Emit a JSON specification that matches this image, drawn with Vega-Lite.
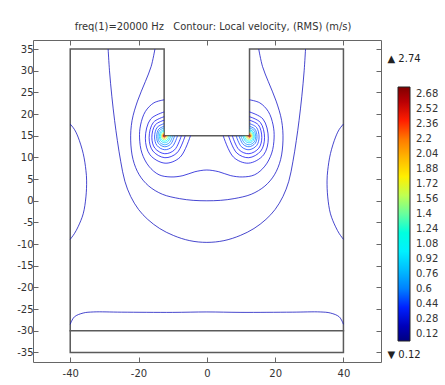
{
  "$schema": "https://vega.github.io/schema/vega-lite/v6.json",
  "autosize": {"type": "none"},
  "width": 348,
  "height": 322,
  "padding": {"left": 33, "top": 40, "right": 64, "bottom": 23},
  "background": "white",
  "title": {"text": "freq(1)=20000 Hz\u00a0\u00a0 Contour: Local velocity, (RMS) (m/s)", "font": "'DejaVu Sans Condensed', 'Liberation Sans Narrow', Roboto, sans-serif", "fontSize": 11, "fontWeight": "normal", "color": "#333", "anchor": "middle", "offset": 8, "dx": 6},
  "config": {
    "view": {"stroke": null},
    "axis": {"domainColor": "#666", "tickColor": "#666", "labelColor": "#333", "labelFont": "DejaVu Sans", "labelFontSize": 10, "grid": false, "tickSize": -5, "labelPadding": 5, "labelExpr": "replace(datum.label, '−', '-')"}
  },
  "datasets": {
    "frame": [
      {"id": "F", "o": 1, "x": -40, "y": 35}, {"id": "F", "o": 2, "x": -12.5, "y": 35}, {"id": "F", "o": 3, "x": -12.5, "y": 15}, {"id": "F", "o": 4, "x": 12.5, "y": 15}, {"id": "F", "o": 5, "x": 12.5, "y": 35}, {"id": "F", "o": 6, "x": 40, "y": 35}, {"id": "F", "o": 7, "x": 40, "y": -35}, {"id": "F", "o": 8, "x": -40, "y": -35}, {"id": "F", "o": 9, "x": -40, "y": 35},
      {"id": "P", "o": 1, "x": -40, "y": -30}, {"id": "P", "o": 2, "x": 40, "y": -30}
    ],
    "contours": [
      {"id": "AL", "o": 1, "x": -40, "y": 17.7, "l": 0.2}, {"id": "AL", "o": 2, "x": -38.8, "y": 16.5, "l": 0.2}, {"id": "AL", "o": 3, "x": -37.7, "y": 14.7, "l": 0.2}, {"id": "AL", "o": 4, "x": -36.2, "y": 10.9, "l": 0.2}, {"id": "AL", "o": 5, "x": -35.4, "y": 7.0, "l": 0.2}, {"id": "AL", "o": 6, "x": -35.2, "y": 4.6, "l": 0.2}, {"id": "AL", "o": 7, "x": -35.4, "y": 0.9, "l": 0.2}, {"id": "AL", "o": 8, "x": -36.2, "y": -3.0, "l": 0.2}, {"id": "AL", "o": 9, "x": -37.7, "y": -6.0, "l": 0.2}, {"id": "AL", "o": 10, "x": -38.8, "y": -7.6, "l": 0.2}, {"id": "AL", "o": 11, "x": -40, "y": -8.9, "l": 0.2},
      {"id": "AR", "o": 1, "x": 40, "y": 17.7, "l": 0.2}, {"id": "AR", "o": 2, "x": 38.8, "y": 16.5, "l": 0.2}, {"id": "AR", "o": 3, "x": 37.7, "y": 14.7, "l": 0.2}, {"id": "AR", "o": 4, "x": 36.2, "y": 10.9, "l": 0.2}, {"id": "AR", "o": 5, "x": 35.4, "y": 7.0, "l": 0.2}, {"id": "AR", "o": 6, "x": 35.2, "y": 4.6, "l": 0.2}, {"id": "AR", "o": 7, "x": 35.4, "y": 0.9, "l": 0.2}, {"id": "AR", "o": 8, "x": 36.2, "y": -3.0, "l": 0.2}, {"id": "AR", "o": 9, "x": 37.7, "y": -6.0, "l": 0.2}, {"id": "AR", "o": 10, "x": 38.8, "y": -7.6, "l": 0.2}, {"id": "AR", "o": 11, "x": 40, "y": -8.9, "l": 0.2},
      {"id": "U", "o": 1, "x": -28.9, "y": 35, "l": 0.2}, {"id": "U", "o": 2, "x": -28.5, "y": 30, "l": 0.2}, {"id": "U", "o": 3, "x": -27.8, "y": 24, "l": 0.2}, {"id": "U", "o": 4, "x": -27, "y": 18.5, "l": 0.2}, {"id": "U", "o": 5, "x": -26.2, "y": 13.9, "l": 0.2}, {"id": "U", "o": 6, "x": -25.2, "y": 9, "l": 0.2}, {"id": "U", "o": 7, "x": -24, "y": 4.5, "l": 0.2}, {"id": "U", "o": 8, "x": -22.3, "y": 1, "l": 0.2}, {"id": "U", "o": 9, "x": -20, "y": -2, "l": 0.2}, {"id": "U", "o": 10, "x": -17.3, "y": -4.3, "l": 0.2}, {"id": "U", "o": 11, "x": -13.8, "y": -6.4, "l": 0.2}, {"id": "U", "o": 12, "x": -9.8, "y": -8, "l": 0.2}, {"id": "U", "o": 13, "x": -5, "y": -9.2, "l": 0.2}, {"id": "U", "o": 14, "x": 0, "y": -9.6, "l": 0.2}, {"id": "U", "o": 15, "x": 5, "y": -9.2, "l": 0.2}, {"id": "U", "o": 16, "x": 9.8, "y": -8, "l": 0.2}, {"id": "U", "o": 17, "x": 13.8, "y": -6.4, "l": 0.2}, {"id": "U", "o": 18, "x": 17.3, "y": -4.3, "l": 0.2}, {"id": "U", "o": 19, "x": 20, "y": -2, "l": 0.2}, {"id": "U", "o": 20, "x": 22.3, "y": 1, "l": 0.2}, {"id": "U", "o": 21, "x": 24, "y": 4.5, "l": 0.2}, {"id": "U", "o": 22, "x": 25.2, "y": 9, "l": 0.2}, {"id": "U", "o": 23, "x": 26.2, "y": 13.9, "l": 0.2}, {"id": "U", "o": 24, "x": 27, "y": 18.5, "l": 0.2}, {"id": "U", "o": 25, "x": 27.8, "y": 24, "l": 0.2}, {"id": "U", "o": 26, "x": 28.5, "y": 30, "l": 0.2}, {"id": "U", "o": 27, "x": 28.9, "y": 35, "l": 0.2},
      {"id": "B", "o": 1, "x": -15.2, "y": 35, "l": 0.22}, {"id": "B", "o": 2, "x": -16.3, "y": 31, "l": 0.22}, {"id": "B", "o": 3, "x": -18, "y": 27.5, "l": 0.22}, {"id": "B", "o": 4, "x": -20.3, "y": 23, "l": 0.22}, {"id": "B", "o": 5, "x": -21.9, "y": 18.5, "l": 0.22}, {"id": "B", "o": 6, "x": -22.3, "y": 14, "l": 0.22}, {"id": "B", "o": 7, "x": -21.6, "y": 9.5, "l": 0.22}, {"id": "B", "o": 8, "x": -19.8, "y": 6, "l": 0.22}, {"id": "B", "o": 9, "x": -17, "y": 3.4, "l": 0.22}, {"id": "B", "o": 10, "x": -13, "y": 1.5, "l": 0.22}, {"id": "B", "o": 11, "x": -8, "y": 0.5, "l": 0.22}, {"id": "B", "o": 12, "x": -4, "y": 0.1, "l": 0.22}, {"id": "B", "o": 13, "x": 0, "y": 0, "l": 0.22}, {"id": "B", "o": 14, "x": 4, "y": 0.1, "l": 0.22}, {"id": "B", "o": 15, "x": 8, "y": 0.5, "l": 0.22}, {"id": "B", "o": 16, "x": 13, "y": 1.5, "l": 0.22}, {"id": "B", "o": 17, "x": 17, "y": 3.4, "l": 0.22}, {"id": "B", "o": 18, "x": 19.8, "y": 6, "l": 0.22}, {"id": "B", "o": 19, "x": 21.6, "y": 9.5, "l": 0.22}, {"id": "B", "o": 20, "x": 22.3, "y": 14, "l": 0.22}, {"id": "B", "o": 21, "x": 21.9, "y": 18.5, "l": 0.22}, {"id": "B", "o": 22, "x": 20.3, "y": 23, "l": 0.22}, {"id": "B", "o": 23, "x": 18, "y": 27.5, "l": 0.22}, {"id": "B", "o": 24, "x": 16.3, "y": 31, "l": 0.22}, {"id": "B", "o": 25, "x": 15.2, "y": 35, "l": 0.22},
      {"id": "C", "o": 1, "x": -12.5, "y": 23.3, "l": 0.26}, {"id": "C", "o": 2, "x": -15.5, "y": 22.6, "l": 0.26}, {"id": "C", "o": 3, "x": -18, "y": 20.6, "l": 0.26}, {"id": "C", "o": 4, "x": -19.4, "y": 17.5, "l": 0.26}, {"id": "C", "o": 5, "x": -19.7, "y": 14.5, "l": 0.26}, {"id": "C", "o": 6, "x": -19, "y": 11, "l": 0.26}, {"id": "C", "o": 7, "x": -17, "y": 8, "l": 0.26}, {"id": "C", "o": 8, "x": -14, "y": 6, "l": 0.26}, {"id": "C", "o": 9, "x": -10.5, "y": 5.5, "l": 0.26}, {"id": "C", "o": 10, "x": -7, "y": 5.8, "l": 0.26}, {"id": "C", "o": 11, "x": -3.5, "y": 6.7, "l": 0.26}, {"id": "C", "o": 12, "x": 0, "y": 7.1, "l": 0.26}, {"id": "C", "o": 13, "x": 3.5, "y": 6.7, "l": 0.26}, {"id": "C", "o": 14, "x": 7, "y": 5.8, "l": 0.26}, {"id": "C", "o": 15, "x": 10.5, "y": 5.5, "l": 0.26}, {"id": "C", "o": 16, "x": 14, "y": 6, "l": 0.26}, {"id": "C", "o": 17, "x": 17, "y": 8, "l": 0.26}, {"id": "C", "o": 18, "x": 19, "y": 11, "l": 0.26}, {"id": "C", "o": 19, "x": 19.7, "y": 14.5, "l": 0.26}, {"id": "C", "o": 20, "x": 19.4, "y": 17.5, "l": 0.26}, {"id": "C", "o": 21, "x": 18, "y": 20.6, "l": 0.26}, {"id": "C", "o": 22, "x": 15.5, "y": 22.6, "l": 0.26}, {"id": "C", "o": 23, "x": 12.5, "y": 23.3, "l": 0.26},
      {"id": "D", "o": 1, "x": -40, "y": -28.5, "l": 0.2}, {"id": "D", "o": 2, "x": -38.8, "y": -26.8, "l": 0.2}, {"id": "D", "o": 3, "x": -36.2, "y": -25.9, "l": 0.2}, {"id": "D", "o": 4, "x": -33.2, "y": -25.65, "l": 0.2}, {"id": "D", "o": 5, "x": -25, "y": -25.7, "l": 0.2}, {"id": "D", "o": 6, "x": -10, "y": -25.75, "l": 0.2}, {"id": "D", "o": 7, "x": 0, "y": -25.65, "l": 0.2}, {"id": "D", "o": 8, "x": 10, "y": -25.75, "l": 0.2}, {"id": "D", "o": 9, "x": 25, "y": -25.7, "l": 0.2}, {"id": "D", "o": 10, "x": 33.2, "y": -25.65, "l": 0.2}, {"id": "D", "o": 11, "x": 36.2, "y": -25.9, "l": 0.2}, {"id": "D", "o": 12, "x": 38.8, "y": -26.8, "l": 0.2}, {"id": "D", "o": 13, "x": 40, "y": -28.5, "l": 0.2},
      {"id": "L01", "o": 0, "x": -12.5, "y": 20.5, "l": 0.3}, {"id": "L01", "o": 1, "x": -16.46, "y": 18.85, "l": 0.3}, {"id": "L01", "o": 2, "x": -18, "y": 14.45, "l": 0.3}, {"id": "L01", "o": 3, "x": -16.63, "y": 10.6, "l": 0.3}, {"id": "L01", "o": 4, "x": -12.23, "y": 8.68, "l": 0.3}, {"id": "L01", "o": 5, "x": -7.83, "y": 10.05, "l": 0.3}, {"id": "L01", "o": 6, "x": -4.8, "y": 15, "l": 0.3},
      {"id": "L02", "o": 0, "x": -12.5, "y": 19.4, "l": 0.33}, {"id": "L02", "o": 1, "x": -15.67, "y": 18.08, "l": 0.33}, {"id": "L02", "o": 2, "x": -16.9, "y": 14.56, "l": 0.33}, {"id": "L02", "o": 3, "x": -15.8, "y": 11.48, "l": 0.33}, {"id": "L02", "o": 4, "x": -12.28, "y": 9.94, "l": 0.33}, {"id": "L02", "o": 5, "x": -8.76, "y": 11.04, "l": 0.33}, {"id": "L02", "o": 6, "x": -6.34, "y": 15, "l": 0.33},
      {"id": "L03", "o": 0, "x": -12.5, "y": 18.6, "l": 0.37}, {"id": "L03", "o": 1, "x": -15.09, "y": 17.52, "l": 0.37}, {"id": "L03", "o": 2, "x": -16.1, "y": 14.64, "l": 0.37}, {"id": "L03", "o": 3, "x": -15.2, "y": 12.12, "l": 0.37}, {"id": "L03", "o": 4, "x": -12.32, "y": 10.86, "l": 0.37}, {"id": "L03", "o": 5, "x": -9.44, "y": 11.76, "l": 0.37}, {"id": "L03", "o": 6, "x": -7.46, "y": 15, "l": 0.37},
      {"id": "L04", "o": 0, "x": -12.5, "y": 17.8, "l": 0.42}, {"id": "L04", "o": 1, "x": -14.52, "y": 16.96, "l": 0.42}, {"id": "L04", "o": 2, "x": -15.3, "y": 14.72, "l": 0.42}, {"id": "L04", "o": 3, "x": -14.6, "y": 12.76, "l": 0.42}, {"id": "L04", "o": 4, "x": -12.36, "y": 11.78, "l": 0.42}, {"id": "L04", "o": 5, "x": -10.12, "y": 12.48, "l": 0.42}, {"id": "L04", "o": 6, "x": -8.58, "y": 15, "l": 0.42},
      {"id": "L05", "o": 0, "x": -12.5, "y": 17.2, "l": 0.5}, {"id": "L05", "o": 1, "x": -14.08, "y": 16.54, "l": 0.5}, {"id": "L05", "o": 2, "x": -14.7, "y": 14.78, "l": 0.5}, {"id": "L05", "o": 3, "x": -14.15, "y": 13.24, "l": 0.5}, {"id": "L05", "o": 4, "x": -12.39, "y": 12.47, "l": 0.5}, {"id": "L05", "o": 5, "x": -10.63, "y": 13.02, "l": 0.5}, {"id": "L05", "o": 6, "x": -9.42, "y": 15, "l": 0.5},
      {"id": "L06", "o": 0, "x": -12.5, "y": 16.8, "l": 0.65}, {"id": "L06", "o": 1, "x": -13.8, "y": 16.26, "l": 0.65}, {"id": "L06", "o": 2, "x": -14.3, "y": 14.82, "l": 0.65}, {"id": "L06", "o": 3, "x": -13.85, "y": 13.56, "l": 0.65}, {"id": "L06", "o": 4, "x": -12.41, "y": 12.93, "l": 0.65}, {"id": "L06", "o": 5, "x": -10.97, "y": 13.38, "l": 0.65}, {"id": "L06", "o": 6, "x": -9.98, "y": 15, "l": 0.65},
      {"id": "L07", "o": 0, "x": -12.5, "y": 16.4, "l": 0.85}, {"id": "L07", "o": 1, "x": -13.51, "y": 15.98, "l": 0.85}, {"id": "L07", "o": 2, "x": -13.9, "y": 14.86, "l": 0.85}, {"id": "L07", "o": 3, "x": -13.55, "y": 13.88, "l": 0.85}, {"id": "L07", "o": 4, "x": -12.43, "y": 13.39, "l": 0.85}, {"id": "L07", "o": 5, "x": -11.31, "y": 13.74, "l": 0.85}, {"id": "L07", "o": 6, "x": -10.54, "y": 15, "l": 0.85},
      {"id": "L08", "o": 0, "x": -12.5, "y": 16.1, "l": 1.1}, {"id": "L08", "o": 1, "x": -13.29, "y": 15.77, "l": 1.1}, {"id": "L08", "o": 2, "x": -13.6, "y": 14.89, "l": 1.1}, {"id": "L08", "o": 3, "x": -13.33, "y": 14.12, "l": 1.1}, {"id": "L08", "o": 4, "x": -12.45, "y": 13.74, "l": 1.1}, {"id": "L08", "o": 5, "x": -11.57, "y": 14.01, "l": 1.1}, {"id": "L08", "o": 6, "x": -10.96, "y": 15, "l": 1.1},
      {"id": "L09", "o": 0, "x": -12.5, "y": 15.8, "l": 1.5}, {"id": "L09", "o": 1, "x": -13.08, "y": 15.56, "l": 1.5}, {"id": "L09", "o": 2, "x": -13.3, "y": 14.92, "l": 1.5}, {"id": "L09", "o": 3, "x": -13.1, "y": 14.36, "l": 1.5}, {"id": "L09", "o": 4, "x": -12.46, "y": 14.08, "l": 1.5}, {"id": "L09", "o": 5, "x": -11.82, "y": 14.28, "l": 1.5}, {"id": "L09", "o": 6, "x": -11.38, "y": 15, "l": 1.5},
      {"id": "L10", "o": 0, "x": -12.5, "y": 15.55, "l": 1.9}, {"id": "L10", "o": 1, "x": -12.9, "y": 15.39, "l": 1.9}, {"id": "L10", "o": 2, "x": -13.05, "y": 14.95, "l": 1.9}, {"id": "L10", "o": 3, "x": -12.91, "y": 14.56, "l": 1.9}, {"id": "L10", "o": 4, "x": -12.47, "y": 14.37, "l": 1.9}, {"id": "L10", "o": 5, "x": -12.03, "y": 14.5, "l": 1.9}, {"id": "L10", "o": 6, "x": -11.73, "y": 15, "l": 1.9},
      {"id": "L11", "o": 0, "x": -12.5, "y": 15.35, "l": 2.3}, {"id": "L11", "o": 1, "x": -12.75, "y": 15.25, "l": 2.3}, {"id": "L11", "o": 2, "x": -12.85, "y": 14.97, "l": 2.3}, {"id": "L11", "o": 3, "x": -12.76, "y": 14.72, "l": 2.3}, {"id": "L11", "o": 4, "x": -12.48, "y": 14.6, "l": 2.3}, {"id": "L11", "o": 5, "x": -12.2, "y": 14.69, "l": 2.3}, {"id": "L11", "o": 6, "x": -12.01, "y": 15, "l": 2.3},
      {"id": "L12", "o": 0, "x": -12.5, "y": 15.2, "l": 2.65}, {"id": "L12", "o": 1, "x": -12.64, "y": 15.14, "l": 2.65}, {"id": "L12", "o": 2, "x": -12.7, "y": 14.98, "l": 2.65}, {"id": "L12", "o": 3, "x": -12.65, "y": 14.84, "l": 2.65}, {"id": "L12", "o": 4, "x": -12.49, "y": 14.77, "l": 2.65}, {"id": "L12", "o": 5, "x": -12.33, "y": 14.82, "l": 2.65}, {"id": "L12", "o": 6, "x": -12.22, "y": 15, "l": 2.65},
      {"id": "R01", "o": 0, "x": 12.5, "y": 20.5, "l": 0.3}, {"id": "R01", "o": 1, "x": 16.46, "y": 18.85, "l": 0.3}, {"id": "R01", "o": 2, "x": 18, "y": 14.45, "l": 0.3}, {"id": "R01", "o": 3, "x": 16.63, "y": 10.6, "l": 0.3}, {"id": "R01", "o": 4, "x": 12.23, "y": 8.68, "l": 0.3}, {"id": "R01", "o": 5, "x": 7.83, "y": 10.05, "l": 0.3}, {"id": "R01", "o": 6, "x": 4.8, "y": 15, "l": 0.3},
      {"id": "R02", "o": 0, "x": 12.5, "y": 19.4, "l": 0.33}, {"id": "R02", "o": 1, "x": 15.67, "y": 18.08, "l": 0.33}, {"id": "R02", "o": 2, "x": 16.9, "y": 14.56, "l": 0.33}, {"id": "R02", "o": 3, "x": 15.8, "y": 11.48, "l": 0.33}, {"id": "R02", "o": 4, "x": 12.28, "y": 9.94, "l": 0.33}, {"id": "R02", "o": 5, "x": 8.76, "y": 11.04, "l": 0.33}, {"id": "R02", "o": 6, "x": 6.34, "y": 15, "l": 0.33},
      {"id": "R03", "o": 0, "x": 12.5, "y": 18.6, "l": 0.37}, {"id": "R03", "o": 1, "x": 15.09, "y": 17.52, "l": 0.37}, {"id": "R03", "o": 2, "x": 16.1, "y": 14.64, "l": 0.37}, {"id": "R03", "o": 3, "x": 15.2, "y": 12.12, "l": 0.37}, {"id": "R03", "o": 4, "x": 12.32, "y": 10.86, "l": 0.37}, {"id": "R03", "o": 5, "x": 9.44, "y": 11.76, "l": 0.37}, {"id": "R03", "o": 6, "x": 7.46, "y": 15, "l": 0.37},
      {"id": "R04", "o": 0, "x": 12.5, "y": 17.8, "l": 0.42}, {"id": "R04", "o": 1, "x": 14.52, "y": 16.96, "l": 0.42}, {"id": "R04", "o": 2, "x": 15.3, "y": 14.72, "l": 0.42}, {"id": "R04", "o": 3, "x": 14.6, "y": 12.76, "l": 0.42}, {"id": "R04", "o": 4, "x": 12.36, "y": 11.78, "l": 0.42}, {"id": "R04", "o": 5, "x": 10.12, "y": 12.48, "l": 0.42}, {"id": "R04", "o": 6, "x": 8.58, "y": 15, "l": 0.42},
      {"id": "R05", "o": 0, "x": 12.5, "y": 17.2, "l": 0.5}, {"id": "R05", "o": 1, "x": 14.08, "y": 16.54, "l": 0.5}, {"id": "R05", "o": 2, "x": 14.7, "y": 14.78, "l": 0.5}, {"id": "R05", "o": 3, "x": 14.15, "y": 13.24, "l": 0.5}, {"id": "R05", "o": 4, "x": 12.39, "y": 12.47, "l": 0.5}, {"id": "R05", "o": 5, "x": 10.63, "y": 13.02, "l": 0.5}, {"id": "R05", "o": 6, "x": 9.42, "y": 15, "l": 0.5},
      {"id": "R06", "o": 0, "x": 12.5, "y": 16.8, "l": 0.65}, {"id": "R06", "o": 1, "x": 13.8, "y": 16.26, "l": 0.65}, {"id": "R06", "o": 2, "x": 14.3, "y": 14.82, "l": 0.65}, {"id": "R06", "o": 3, "x": 13.85, "y": 13.56, "l": 0.65}, {"id": "R06", "o": 4, "x": 12.41, "y": 12.93, "l": 0.65}, {"id": "R06", "o": 5, "x": 10.97, "y": 13.38, "l": 0.65}, {"id": "R06", "o": 6, "x": 9.98, "y": 15, "l": 0.65},
      {"id": "R07", "o": 0, "x": 12.5, "y": 16.4, "l": 0.85}, {"id": "R07", "o": 1, "x": 13.51, "y": 15.98, "l": 0.85}, {"id": "R07", "o": 2, "x": 13.9, "y": 14.86, "l": 0.85}, {"id": "R07", "o": 3, "x": 13.55, "y": 13.88, "l": 0.85}, {"id": "R07", "o": 4, "x": 12.43, "y": 13.39, "l": 0.85}, {"id": "R07", "o": 5, "x": 11.31, "y": 13.74, "l": 0.85}, {"id": "R07", "o": 6, "x": 10.54, "y": 15, "l": 0.85},
      {"id": "R08", "o": 0, "x": 12.5, "y": 16.1, "l": 1.1}, {"id": "R08", "o": 1, "x": 13.29, "y": 15.77, "l": 1.1}, {"id": "R08", "o": 2, "x": 13.6, "y": 14.89, "l": 1.1}, {"id": "R08", "o": 3, "x": 13.33, "y": 14.12, "l": 1.1}, {"id": "R08", "o": 4, "x": 12.45, "y": 13.74, "l": 1.1}, {"id": "R08", "o": 5, "x": 11.57, "y": 14.01, "l": 1.1}, {"id": "R08", "o": 6, "x": 10.96, "y": 15, "l": 1.1},
      {"id": "R09", "o": 0, "x": 12.5, "y": 15.8, "l": 1.5}, {"id": "R09", "o": 1, "x": 13.08, "y": 15.56, "l": 1.5}, {"id": "R09", "o": 2, "x": 13.3, "y": 14.92, "l": 1.5}, {"id": "R09", "o": 3, "x": 13.1, "y": 14.36, "l": 1.5}, {"id": "R09", "o": 4, "x": 12.46, "y": 14.08, "l": 1.5}, {"id": "R09", "o": 5, "x": 11.82, "y": 14.28, "l": 1.5}, {"id": "R09", "o": 6, "x": 11.38, "y": 15, "l": 1.5},
      {"id": "R10", "o": 0, "x": 12.5, "y": 15.55, "l": 1.9}, {"id": "R10", "o": 1, "x": 12.9, "y": 15.39, "l": 1.9}, {"id": "R10", "o": 2, "x": 13.05, "y": 14.95, "l": 1.9}, {"id": "R10", "o": 3, "x": 12.91, "y": 14.56, "l": 1.9}, {"id": "R10", "o": 4, "x": 12.47, "y": 14.37, "l": 1.9}, {"id": "R10", "o": 5, "x": 12.03, "y": 14.5, "l": 1.9}, {"id": "R10", "o": 6, "x": 11.73, "y": 15, "l": 1.9},
      {"id": "R11", "o": 0, "x": 12.5, "y": 15.35, "l": 2.3}, {"id": "R11", "o": 1, "x": 12.75, "y": 15.25, "l": 2.3}, {"id": "R11", "o": 2, "x": 12.85, "y": 14.97, "l": 2.3}, {"id": "R11", "o": 3, "x": 12.76, "y": 14.72, "l": 2.3}, {"id": "R11", "o": 4, "x": 12.48, "y": 14.6, "l": 2.3}, {"id": "R11", "o": 5, "x": 12.2, "y": 14.69, "l": 2.3}, {"id": "R11", "o": 6, "x": 12.01, "y": 15, "l": 2.3},
      {"id": "R12", "o": 0, "x": 12.5, "y": 15.2, "l": 2.65}, {"id": "R12", "o": 1, "x": 12.64, "y": 15.14, "l": 2.65}, {"id": "R12", "o": 2, "x": 12.7, "y": 14.98, "l": 2.65}, {"id": "R12", "o": 3, "x": 12.65, "y": 14.84, "l": 2.65}, {"id": "R12", "o": 4, "x": 12.49, "y": 14.77, "l": 2.65}, {"id": "R12", "o": 5, "x": 12.33, "y": 14.82, "l": 2.65}, {"id": "R12", "o": 6, "x": 12.22, "y": 15, "l": 2.65}
    ],
    "notes": [
      {"t": "▲ 2.74", "x": 52.9, "y": 32.7},
      {"t": "▼ 0.12", "x": 52.9, "y": -35.6}
    ]
  },
  "layer": [
    {
      "data": {"name": "frame"},
      "mark": {"type": "line", "stroke": "#5a5a5a", "strokeWidth": 1.5, "strokeCap": "square"},
      "encoding": {
        "x": {"field": "x", "type": "quantitative", "scale": {"domain": [-50.9, 51], "nice": false, "zero": false}, "axis": {"orient": "bottom", "values": [-40, -20, 0, 20, 40], "title": null, "labelPadding": 11}},
        "y": {"field": "y", "type": "quantitative", "scale": {"domain": [-37.2, 37.1], "nice": false, "zero": false}, "axis": {"orient": "left", "values": [-35, -30, -25, -20, -15, -10, -5, 0, 5, 10, 15, 20, 25, 30, 35], "title": null}},
        "detail": {"field": "id"},
        "order": {"field": "o"}
      }
    },
    {
      "data": {"name": "contours"},
      "mark": {"type": "line", "strokeWidth": 1, "strokeOpacity": 0.72, "interpolate": "catmull-rom"},
      "encoding": {
        "x": {"field": "x", "type": "quantitative", "scale": {"domain": [-50.9, 51], "nice": false, "zero": false}, "axis": {"orient": "top", "values": [-40, -20, 0, 20, 40], "labels": false, "title": null}},
        "y": {"field": "y", "type": "quantitative", "scale": {"domain": [-37.2, 37.1], "nice": false, "zero": false}, "axis": {"orient": "right", "values": [-35, -30, -25, -20, -15, -10, -5, 0, 5, 10, 15, 20, 25, 30, 35], "labels": false, "title": null}},
        "detail": {"field": "id"},
        "order": {"field": "o"},
        "color": {
          "field": "l", "type": "quantitative",
          "scale": {"domain": [0.04, 0.38, 1.06, 1.74, 2.42, 2.76], "range": ["#000080", "#0000ff", "#00ffff", "#ffff00", "#ff0000", "#800000"]},
          "legend": {
            "orient": "none", "legendX": 365, "legendY": 47, "title": null, "direction": "vertical",
            "gradientLength": 254, "gradientThickness": 12, "gradientStrokeColor": "#222", "gradientStrokeWidth": 1,
            "values": [0.12, 0.28, 0.44, 0.6, 0.76, 0.92, 1.08, 1.24, 1.4, 1.56, 1.72, 1.88, 2.04, 2.2, 2.36, 2.52, 2.68],
            "format": ".3~g", "labelOverlap": false, "labelFont": "DejaVu Sans", "labelFontSize": 10, "labelColor": "#333", "labelOffset": 6, "padding": 0
          }
        }
      }
    },
    {
      "data": {"name": "notes"},
      "mark": {"type": "text", "align": "left", "baseline": "middle", "font": "DejaVu Sans", "fontSize": 10, "color": "#222"},
      "encoding": {
        "x": {"field": "x", "type": "quantitative", "scale": {"domain": [-50.9, 51], "nice": false, "zero": false}, "axis": null},
        "y": {"field": "y", "type": "quantitative", "scale": {"domain": [-37.2, 37.1], "nice": false, "zero": false}, "axis": null},
        "text": {"field": "t"}
      }
    }
  ],
  "resolve": {"axis": {"x": "independent", "y": "independent"}}
}
